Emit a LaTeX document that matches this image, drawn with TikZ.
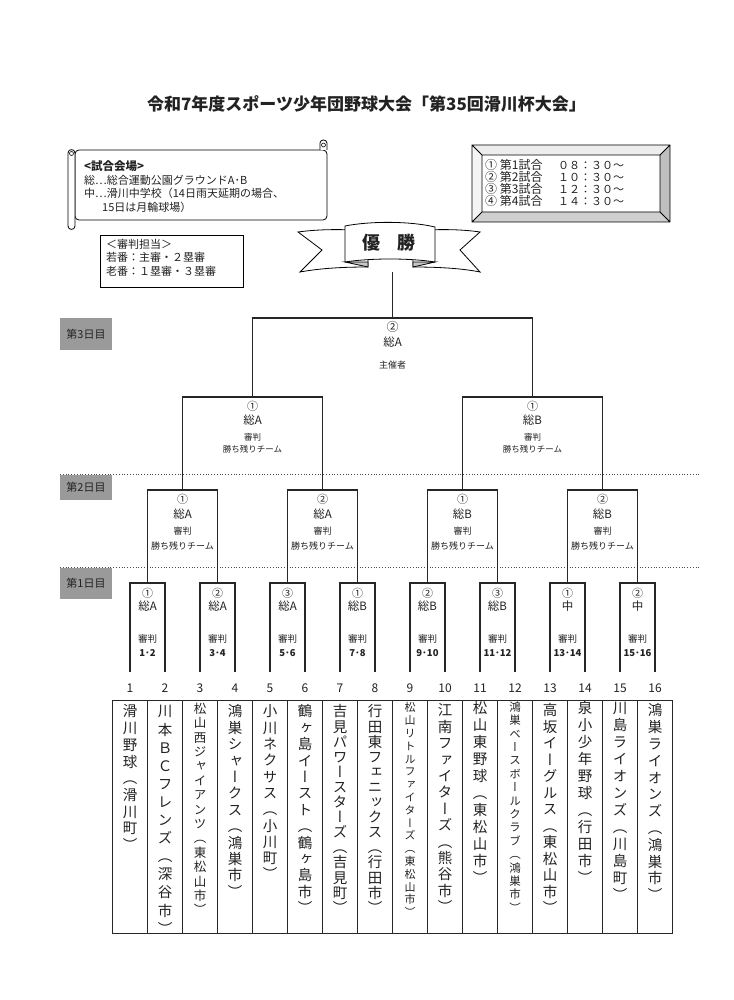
\documentclass[tikz,border=0pt]{standalone}
\usepackage{fontspec}
\setmainfont{Noto Sans CJK JP}
\newfontfamily\jpv{Noto Sans CJK JP}[RawFeature=+vert]
\ExplSyntaxOn
\NewDocumentCommand\vtext{mm}{
  \vbox{\offinterlineskip
    \exp_args:No \tl_map_inline:nn {#2} {\hbox_to_wd:nn{1em}{\hss\rule[-.12em]{0pt}{1em}##1\hss}\kern #1pt\relax}
  }
}
\ExplSyntaxOff
\definecolor{ink}{HTML}{222222}
\definecolor{daygray}{HTML}{9A9A9A}
\begin{document}
\begin{tikzpicture}[x=1pt,y=-1pt,
  brk/.style={draw=black!85,line width=1.1pt},
  tbl/.style={draw=black!85,line width=0.9pt},
  fsz/.style={font=\fontsize{#1}{#1}\selectfont},
  lab/.style={inner sep=0pt,text=ink},
  daybox/.style={fill=daygray,draw=none},
  dots/.style={draw=black!70,line width=0.8pt,dotted}]
\useasboundingbox (0,0) rectangle (733,1000);
\fill[white] (0,0) rectangle (733,1000);

% title
\node[lab,font=\bfseries\fontsize{17}{17}\selectfont] (title) at (366.5,104) {令和7年度スポーツ少年団野球大会「第35回滑川杯大会」};

% scroll
\draw[line width=0.8pt,fill=white,rounded corners=4pt] (75,150) -- (327,150) -- (327,220) -- (75,220) -- cycle;
\draw[line width=0.8pt,fill=white] (320,150) -- (320,143) .. controls (320,139) and (327,139) .. (327,143) -- (327,150);
\draw[line width=0.6pt] (323.5,145) circle (2);
\draw[line width=0.8pt,fill=white] (68,153) -- (68,226) .. controls (68,230.5) and (75,230.5) .. (75,226) -- (75,153) .. controls (75,148.5) and (68,148.5) .. (68,153);
\draw[line width=0.6pt] (71.5,153.5) circle (2);
\node[lab,anchor=west,font=\bfseries\fontsize{11.5}{11.5}\selectfont] (venue) at (84,166) {<試合会場>};
\node[lab,anchor=west,fsz=11] (venue1) at (84,180) {総…総合運動公園グラウンドA･B};
\node[lab,anchor=west,fsz=11] (venue2) at (84,193.5) {中…滑川中学校（14日雨天延期の場合、};
\node[lab,anchor=west,fsz=11] (venue3) at (102,207) {15日は月輪球場）};

% time box
\fill[gray!14] (472,145) -- (670,145) -- (660,155) -- (482,155) -- cycle;
\fill[gray!8] (472,145) -- (482,155) -- (482,212) -- (472,222) -- cycle;
\fill[gray!50] (670,145) -- (670,222) -- (660,212) -- (660,155) -- cycle;
\fill[gray!38] (472,222) -- (670,222) -- (660,212) -- (482,212) -- cycle;
\draw[line width=0.8pt] (472,145) rectangle (670,222) (482,155) rectangle (660,212)
  (472,145) -- (482,155) (670,145) -- (660,155) (472,222) -- (482,212) (670,222) -- (660,212);
\node[lab,anchor=west,fsz=12] (g1) at (485,165) {① 第1試合};
\node[lab,anchor=west,fsz=11] (h1) at (558,165) {０８：３０～};
\node[lab,anchor=west,fsz=12] (g2) at (485,177) {② 第2試合};
\node[lab,anchor=west,fsz=11] (h2) at (558,177) {１０：３０～};
\node[lab,anchor=west,fsz=12] (g3) at (485,189) {③ 第3試合};
\node[lab,anchor=west,fsz=11] (h3) at (558,189) {１２：３０～};
\node[lab,anchor=west,fsz=12] (g4) at (485,201) {④ 第4試合};
\node[lab,anchor=west,fsz=11] (h4) at (558,201) {１４：３０～};

% referee box
\draw[line width=0.8pt] (100,235) rectangle (243,287);
\node[lab,anchor=west,fsz=11] (ref0) at (106,244) {＜審判担当＞};
\node[lab,anchor=west,fsz=11] (ref1) at (106,257.5) {若番：主審・２塁審};
\node[lab,anchor=west,fsz=11] (ref2) at (106,271) {老番：１塁審・３塁審};

% banner
\draw[line width=0.8pt,fill=white] (368,231) .. controls (345,229) and (320,229) .. (298,232) -- (322,250) -- (300,272) .. controls (322,268) and (345,267) .. (368,267) -- cycle;
\draw[line width=0.8pt,fill=white] (413,231) .. controls (435,229) and (460,229) .. (480,232) -- (460,250) -- (480,272) .. controls (460,268) and (435,267) .. (413,267) -- cycle;
\draw[line width=0.8pt,fill=gray!45] (345,262) -- (368,262) -- (368,267) -- cycle;
\draw[line width=0.8pt,fill=gray!45] (435,262) -- (413,262) -- (413,267) -- cycle;
\draw[line width=0.8pt,fill=white] (345,226) .. controls (370,221) and (410,221) .. (435,227) -- (435,262) .. controls (410,258) and (370,258) .. (345,262) -- cycle;
\node[lab,font=\bfseries\fontsize{18}{18}\selectfont] (win) at (389,243) {優\hspace{17pt}勝};
\coordinate (banb) at (392.5,272);

% day labels and dotted lines
\fill[daybox] (60,318) rectangle (112,350);
\node[lab,fsz=11] (day3) at (86,334) {第3日目};
\fill[daybox] (60,475) rectangle (112,500);
\node[lab,fsz=11] (day2) at (86,487.5) {第2日目};
\fill[daybox] (60,568) rectangle (112,599);
\node[lab,fsz=11] (day1) at (86,583.5) {第1日目};
\draw[dots] (60,474) -- (700,474);
\draw[dots] (60,567) -- (700,567);

% team numbers and leg ends
\foreach \i in {1,...,16}{
  \pgfmathsetmacro\tx{130+35*(\i-1)}
  \coordinate (t\i) at (\tx,672);
  \node[lab,fsz=12] (n\i) at (\tx,688) {\i};
}

% round 1
\foreach \k/\cn/\pl/\pr in {1/①/総A/1･2,2/②/総A/3･4,3/③/総A/5･6,4/①/総B/7･8,5/②/総B/9･10,6/③/総B/11･12,7/①/中/13･14,8/②/中/15･16}{
  \pgfmathsetmacro\xl{130+70*(\k-1)}
  \pgfmathtruncatemacro\ta{2*\k-1}
  \pgfmathtruncatemacro\tb{2*\k}
  \coordinate (a\k l) at (\xl,583);
  \coordinate (a\k r) at (\xl+35,583);
  \coordinate (a\k) at (\xl+17.5,583);
  \draw[brk] (t\ta) -- (a\k l) -- (a\k r) -- (t\tb);
  \node[lab,fsz=11] (a\k n) at (\xl+17.5,593) {\cn};
  \node[lab,fsz=11.5] (a\k p) at (\xl+17.5,606) {\pl};
  \node[lab,fsz=9.5] (a\k j) at (\xl+17.5,639) {審判};
  \node[lab,font=\bfseries\fontsize{9.5}{9.5}\selectfont] (a\k q) at (\xl+17.5,653) {\pr};
}

% round 2
\foreach \k/\cn/\pl in {1/①/総A,2/②/総A,3/①/総B,4/②/総B}{
  \pgfmathsetmacro\xl{147.5+140*(\k-1)}
  \pgfmathtruncatemacro\ta{2*\k-1}
  \pgfmathtruncatemacro\tb{2*\k}
  \coordinate (b\k l) at (\xl,490);
  \coordinate (b\k r) at (\xl+70,490);
  \coordinate (b\k) at (\xl+35,490);
  \draw[brk] (a\ta) -- (b\k l) -- (b\k r) -- (a\tb);
  \node[lab,fsz=11] (b\k n) at (\xl+35,499) {\cn};
  \node[lab,fsz=11.5] (b\k p) at (\xl+35,514) {\pl};
  \node[lab,fsz=9] (b\k j) at (\xl+35,531) {審判};
  \node[lab,fsz=9] (b\k w) at (\xl+35,546) {勝ち残りチーム};
}

% semifinals
\foreach \k/\pl in {1/総A,2/総B}{
  \pgfmathsetmacro\xl{182.5+280*(\k-1)}
  \pgfmathtruncatemacro\ta{2*\k-1}
  \pgfmathtruncatemacro\tb{2*\k}
  \coordinate (c\k l) at (\xl,397);
  \coordinate (c\k r) at (\xl+140,397);
  \coordinate (c\k) at (\xl+70,397);
  \draw[brk] (b\ta) -- (c\k l) -- (c\k r) -- (b\tb);
  \node[lab,fsz=11] (c\k n) at (\xl+70,406) {①};
  \node[lab,fsz=11.5] (c\k p) at (\xl+70,420) {\pl};
  \node[lab,fsz=8.5] (c\k j) at (\xl+70,437) {審判};
  \node[lab,fsz=8.5] (c\k w) at (\xl+70,449) {勝ち残りチーム};
}

% final
\coordinate (dl) at (252.5,318);
\coordinate (dr) at (532.5,318);
\coordinate (d) at (392.5,318);
\draw[brk] (c1) -- (dl) -- (dr) -- (c2);
\draw[brk] (banb) -- (d);
\node[lab,fsz=12] (dn) at (392.5,327) {②};
\node[lab,fsz=11.5] (dp) at (392.5,342) {総A};
\node[lab,fsz=9] (dh) at (392.5,365) {主催者};

% team table
\draw[tbl] (112.5,700) rectangle (672.5,933);
\foreach \k in {1,...,15}{
  \draw[tbl] (112.5+35*\k,700) -- (112.5+35*\k,933);
}
\foreach \i/\fs/\kn/\tp/\nm in {
 1/14.5/2.2/704/滑川野球（滑川町）,
 2/14.5/3.6/704/川本ＢＣフレンズ（深谷市）,
 3/12.5/1.9/702/松山西ジャイアンツ（東松山市）,
 4/14.5/1.9/704/鴻巣シャークス（鴻巣市）,
 5/14.5/1.8/704/小川ネクサス（小川町）,
 6/14.5/1.9/704/鶴ヶ島イースト（鶴ヶ島市）,
 7/14.5/0.6/704/吉見パワースターズ（吉見町）,
 8/14.5/0.6/704/行田東フェニックス（行田市）,
 9/11/1.8/702/松山リトルファイターズ（東松山市）,
 10/14.5/1.9/703/江南ファイターズ（熊谷市）,
 11/14.5/2.5/701/松山東野球（東松山市）,
 12/11.5/1.9/701/鴻巣ベースボールクラブ（鴻巣市）,
 13/14.5/2.0/703/高坂イーグルス（東松山市）,
 14/14.5/2.5/701/泉小少年野球（行田市）,
 15/14.5/2.5/701/川島ライオンズ（川島町）,
 16/14.5/2.3/703/鴻巣ライオンズ（鴻巣市）}{
  \pgfmathsetmacro\tx{130+35*(\i-1)}
  \node[inner sep=0pt,anchor=north,text=ink,font=\jpv\fontsize{\fs}{\fs}\selectfont] (tm\i) at (\tx,\tp) {\vtext{\kn}{\nm}};
}
\end{tikzpicture}
\end{document}
